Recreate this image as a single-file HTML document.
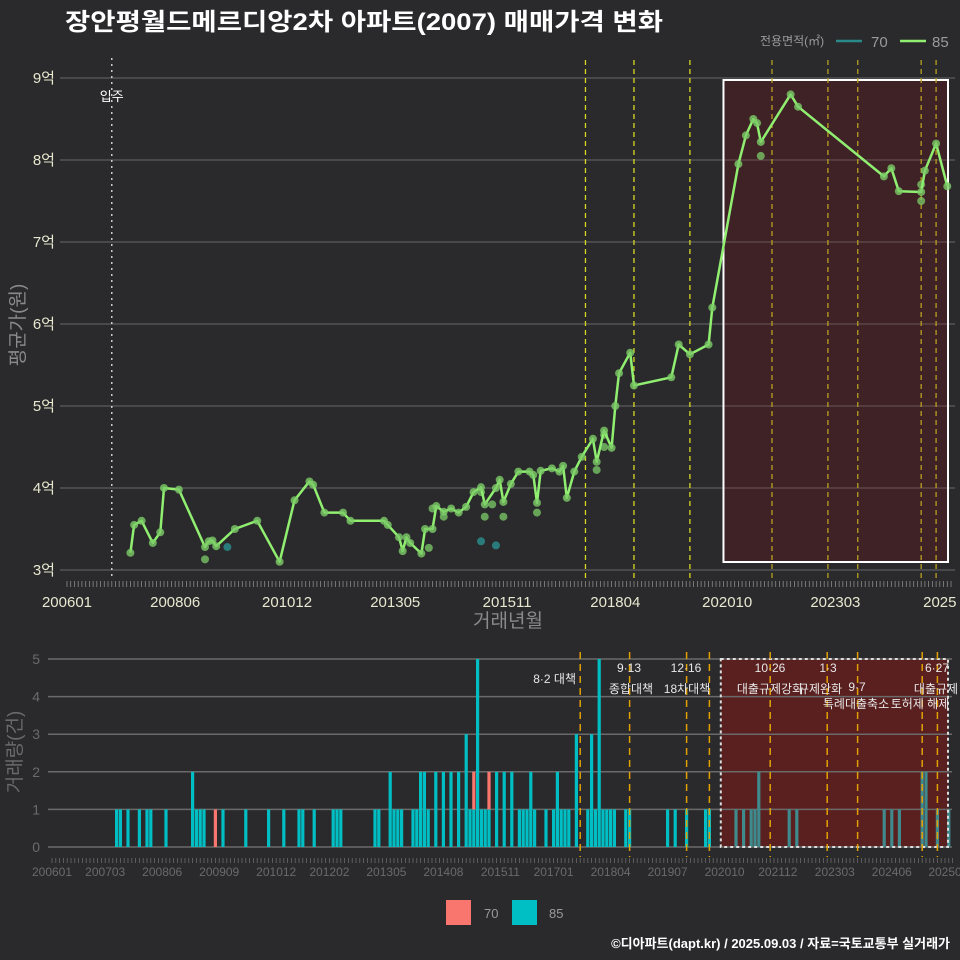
<!DOCTYPE html>
<html><head><meta charset="utf-8">
<style>
html,body{margin:0;padding:0;background:#2a2a2c;}
svg{display:block;font-family:"Liberation Sans","Noto Sans CJK KR",sans-serif;}
</style></head>
<body>
<svg id="chart" width="960" height="960" viewBox="0 0 960 960" xmlns="http://www.w3.org/2000/svg">
<rect x="0" y="0" width="960" height="960" fill="#2a2a2c"/>
<text x="65" y="30" fill="#ffffff" font-size="24" font-weight="bold" textLength="598" lengthAdjust="spacingAndGlyphs">장안평월드메르디앙2차 아파트(2007) 매매가격 변화</text>
<g id="topG"></g>
<g id="botG"></g>
<text x="760" y="45" fill="#9a9a9a" font-size="12">전용면적(㎡)</text>
<line x1="836" y1="41" x2="862" y2="41" stroke="#2a8a8a" stroke-width="2.5"/>
<text x="871" y="47" fill="#9a9a9a" font-size="15">70</text>
<line x1="900" y1="41" x2="926" y2="41" stroke="#90ee70" stroke-width="2.5"/>
<text x="932" y="47" fill="#9a9a9a" font-size="15">85</text>
<rect x="446" y="900" width="25" height="25" fill="#f8766d"/>
<text x="484" y="918" fill="#9a9a9a" font-size="13">70</text>
<rect x="512" y="900" width="25" height="25" fill="#00bfc4"/>
<text x="549" y="918" fill="#9a9a9a" font-size="13">85</text>
<text x="950" y="948" text-anchor="end" fill="#ffffff" font-size="13" font-weight="bold">©디아파트(dapt.kr) / 2025.09.03 / 자료=국토교통부 실거래가</text>
</svg>
<script>
// ---- data (month index from 2006-01) ----
const lineMonths85 = [17,18,20,23,25,26,30,37,38,39,40,45,51,57,61,65,66,69,74,76,85,86,89,90,91,92,95,96,98,99,101,103,105,107,109,111,112,115,116,117,119,121,124,125,126,127,130,132,133,134,136,138,141,142,144,146,147,148,151,152,162,164,167,172,173,180,182,184,185,186,194,196,219,221,223,229,230,233,236];
const lineValues85 = [3.21,3.55,3.6,3.33,3.46,4.0,3.98,3.28,3.35,3.36,3.29,3.5,3.6,3.1,3.85,4.08,4.04,3.7,3.7,3.6,3.6,3.55,3.4,3.23,3.4,3.33,3.2,3.5,3.5,3.78,3.71,3.75,3.7,3.77,3.95,4.01,3.8,4.0,4.1,3.83,4.05,4.2,4.2,4.16,3.82,4.21,4.24,4.2,4.27,3.88,4.2,4.38,4.6,4.32,4.7,4.49,5.0,5.4,5.65,5.25,5.35,5.75,5.63,5.75,6.2,7.95,8.3,8.5,8.45,8.22,8.8,8.65,7.8,7.9,7.62,7.61,7.87,8.2,7.68];
const extraMonths85 = [37,97,98,101,112,117,126,142,144,144,186,229,229,111,114];
const extraValues85 = [3.13,3.27,3.75,3.65,3.65,3.65,3.7,4.22,4.5,4.65,8.05,7.5,7.7,3.95,3.8];
const pointMonths70 = [43,111,115];
const pointValues70 = [3.28,3.35,3.3];
const yTicksTop = [3,4,5,6,7,8,9];
const xLabelMonthsTop = [0,29,59,88,118,147,177,206,234];
const xLabelTextTop = ["200601","200806","201012","201305","201511","201804","202010","202303","2025"];
const policyMonthsTop = [139,152,167,189,204,212,229,233];
const volMonths85 = [17,18,20,23,25,26,30,37,38,39,40,45,51,57,61,65,66,69,74,75,76,85,86,89,90,91,92,95,96,97,98,99,101,103,105,107,109,110,111,112,113,114,115,117,119,121,123,124,125,126,127,130,132,133,134,135,136,138,141,142,143,144,145,146,147,148,151,152,162,164,167,172,173,180,182,184,185,186,194,196,219,221,223,229,230,233,236];
const volCounts85 = [1,1,1,1,1,1,1,2,1,1,1,1,1,1,1,1,1,1,1,1,1,1,1,2,1,1,1,1,1,2,2,1,2,2,2,2,3,1,1,5,1,1,1,2,2,2,1,1,1,2,1,1,1,2,1,1,1,3,1,3,1,5,1,1,1,1,1,1,1,1,1,1,1,1,1,1,1,2,1,1,1,1,1,2,2,1,1];
const volMonths70 = [43,111,115];
const volCounts70 = [1,1,1];
const yTicksBot = [0,1,2,3,4,5];
const xLabelMonthsBot = [0,14,29,44,59,73,88,103,118,132,147,162,177,191,206,221,235];
const xLabelTextBot = ["200601","200703","200806","200909","201012","201202","201305","201408","201511","201701","201804","201907","202010","202112","202303","202406","20250"];
const policyMonthsBot = [139,152,167,173,189,204,212,229,233];

// ---- scales ----
const NS="http://www.w3.org/2000/svg";
const xT = m => 67 + m*3.73;
const yT = v => 570 - (v-3)*82;
const xB = m => 52 + m*3.8;
const yB = c => 847 - c*37.6;
function mk(parent, tag, attrs){const e=document.createElementNS(NS,tag);for(const k in attrs)e.setAttribute(k,attrs[k]);parent.appendChild(e);return e;}
const topG=document.getElementById('topG'), botG=document.getElementById('botG');

// ---- top panel ----
for(let i=0;i<yTicksTop.length;i++){
  const v=yTicksTop[i];
  const g=mk(topG,'line',{x1:60,x2:955,y1:yT(v),y2:yT(v),stroke:'#5c5c5e','stroke-width':1.2});
  
  
  const t=mk(topG,'text',{x:55,y:yT(v)+5,'text-anchor':'end',fill:'#e8e8d0','font-size':15});
  t.textContent=v+'억';
  
  
}
const sh=mk(topG,'rect',{x:xT(176),y:80,width:948-xT(176),height:482,fill:'#3e2226',stroke:'#ffffff','stroke-width':2});


for(const v of yTicksTop){
  if(yT(v)<81||yT(v)>561) continue;
  const l=mk(topG,'line',{x1:xT(176)+1,x2:947,y1:yT(v),y2:yT(v),stroke:'#6a5558','stroke-width':1});
  
  
}
let ticks='';
for(let m=0;m<=237;m++){const x=xT(m);ticks+=`M${x.toFixed(1)},581v6`;}
const tk=mk(topG,'path',{d:ticks,stroke:'#8a8a8a','stroke-width':0.8});


for(let i=0;i<xLabelMonthsTop.length;i++){
  const t=mk(topG,'text',{x:xT(xLabelMonthsTop[i]),y:607,'text-anchor':'middle',fill:'#e8e8d0','font-size':15});
  t.textContent=xLabelTextTop[i];
  
  
}
const mv=mk(topG,'line',{x1:xT(12),x2:xT(12),y1:58,y2:580,stroke:'#cccccc','stroke-width':1.5,'stroke-dasharray':'2 4'});


const mvt=mk(topG,'text',{x:xT(12),y:101,'text-anchor':'middle',fill:'#ffffff','font-size':13});
mvt.textContent='입주';


for(const m of policyMonthsTop){
  const l=mk(topG,'line',{x1:xT(m),x2:xT(m),y1:60,y2:580,stroke:m>=176?'#b8a020':'#d8d820','stroke-width':1.3,'stroke-dasharray':'5 4'});
  
  
}
for(let i=0;i<extraMonths85.length;i++){
  const c=mk(topG,'circle',{cx:xT(extraMonths85[i]),cy:yT(extraValues85[i]),r:4,fill:'#7ccc68','fill-opacity':0.75});
  
  
}
for(let i=0;i<pointMonths70.length;i++){
  const c=mk(topG,'circle',{cx:xT(pointMonths70[i]),cy:yT(pointValues70[i]),r:4,fill:'#2a8a8a','fill-opacity':0.85});
  
  
}
let d='';
for(let i=0;i<lineMonths85.length;i++){d+=(i?'L':'M')+xT(lineMonths85[i]).toFixed(1)+','+yT(lineValues85[i]).toFixed(1);}
const ln=mk(topG,'path',{d:d,fill:'none',stroke:'#90ee70','stroke-width':2.5,'stroke-linejoin':'round'});


for(let i=0;i<lineMonths85.length;i++){
  const c=mk(topG,'circle',{cx:xT(lineMonths85[i]),cy:yT(lineValues85[i]),r:4,fill:'#7ccc68','fill-opacity':0.8});
  
  
}
const yt=mk(topG,'text',{x:0,y:0,transform:'translate(24,325) rotate(-90)','text-anchor':'middle',fill:'#8a8a8a','font-size':19});
yt.textContent='평균가(원)';


const xt=mk(topG,'text',{x:508,y:627,'text-anchor':'middle',fill:'#8a8a8a','font-size':19});
xt.textContent='거래년월';



// ---- bottom panel ----
const bsh=mk(botG,'rect',{x:xB(176),y:659,width:948-xB(176),height:188,fill:'#5a1f1f'});


for(const c of yTicksBot){
  const l=mk(botG,'line',{x1:48,x2:952,y1:yB(c),y2:yB(c),stroke:'#6a6a6a','stroke-width':1.5});
  
  
  const t=mk(botG,'text',{x:40,y:yB(c)+5,'text-anchor':'end',fill:'#6a6a6a','font-size':14});
  t.textContent=c;
  
  
}
for(let i=0;i<volMonths85.length;i++){
  const r=mk(botG,'rect',{x:xB(volMonths85[i])-1.6,y:yB(volCounts85[i]),width:3.2,height:volCounts85[i]*37.6,fill:volMonths85[i]>=176?'#3f8a8c':'#00bfc4'});
  
  
}
for(let i=0;i<volMonths70.length;i++){
  const m=volMonths70[i];
  const idx=volMonths85.indexOf(m);
  const base=idx>=0?volCounts85[idx]:0;
  const r=mk(botG,'rect',{x:xB(m)-1.6,y:yB(base+volCounts70[i]),width:3.2,height:volCounts70[i]*37.6,fill:'#f8766d'});
  
  
}
const bb=mk(botG,'rect',{x:xB(176),y:659,width:948-xB(176),height:188,fill:'none',stroke:'#dddddd','stroke-width':2,'stroke-dasharray':'3 3'});


for(const m of policyMonthsBot){
  const l=mk(botG,'line',{x1:xB(m),x2:xB(m),y1:652,y2:857,stroke:'#e0a000','stroke-width':1.5,'stroke-dasharray':'7 5'});
  
  
}
let bt='';
for(let m=0;m<=237;m++){bt+=`M${xB(m).toFixed(1)},858v5`;}
const btk=mk(botG,'path',{d:bt,stroke:'#6a6a6a','stroke-width':0.8});


for(let i=0;i<xLabelMonthsBot.length;i++){
  const t=mk(botG,'text',{x:xB(xLabelMonthsBot[i]),y:876,'text-anchor':'middle',fill:'#6a6a6a','font-size':12});
  t.textContent=xLabelTextBot[i];
  
  
}
const annText=[["8·2 대책",576,683,"end"],["9·13",629,672,"middle"],["종합대책",631,693,"middle"],["12·16",686,672,"middle"],["18차대책",687,693,"middle"],["10·26",770,672,"middle"],["대출규제강화",770,693,"middle"],["1·3",828,672,"middle"],["규제완화",820,693,"middle"],["9·7",857,691,"middle"],["특례대출축소",856,708,"middle"],["토허제 해제",920,708,"middle"],["6·27",937,672,"middle"],["대출규제",936,693,"middle"]];
for(const a of annText){
  const t=mk(botG,'text',{x:a[1],y:a[2],'text-anchor':a[3],fill:'#e8e8e8','font-size':12});
  t.textContent=a[0];
  
  
}
const byt=mk(botG,'text',{x:0,y:0,transform:'translate(21,752) rotate(-90)','text-anchor':'middle',fill:'#6a6a6a','font-size':19});
byt.textContent='거래량(건)';


</script>
</body></html>
